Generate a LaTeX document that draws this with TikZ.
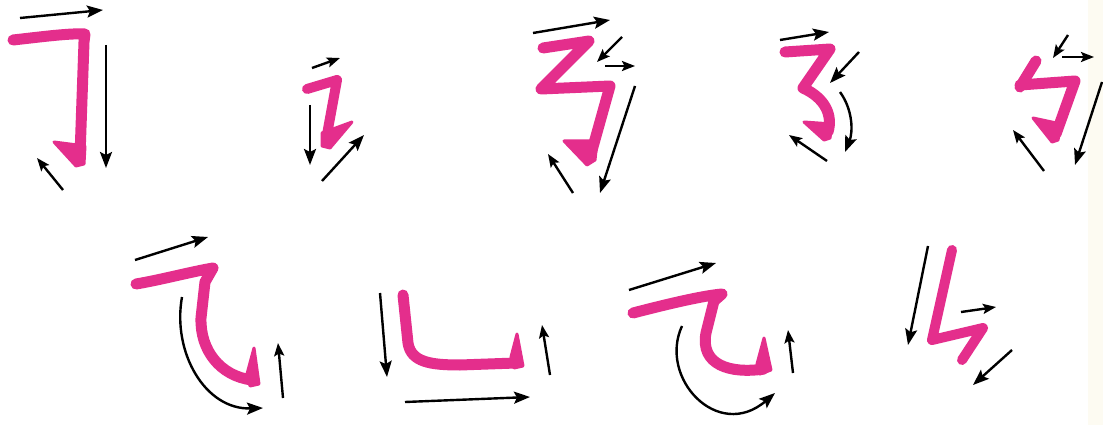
\documentclass[tikz,border=0pt]{standalone}
\usetikzlibrary{arrows.meta}
\definecolor{brushpink}{RGB}{228,46,140}
\definecolor{cream}{RGB}{253,251,242}
\tikzset{
  brush/.style={draw=brushpink,line width=11pt,line cap=round,line join=round},
  hook/.style={fill=brushpink,draw=brushpink,line width=3pt,line join=round},
  arr/.style={draw=black,line width=2.4pt,-{Stealth[length=16pt,width=12pt,inset=3pt]}},
  sarr/.style={arr,-{Stealth[length=13pt,width=10pt,inset=2.5pt]}}
}
\begin{document}
\begin{tikzpicture}[x=1pt,y=-1pt]
\useasboundingbox (0,0) rectangle (1103,425);
\fill[white] (0,0) rectangle (1103,425);
\fill[cream] (1088,0) rectangle (1103,425);

% ---- stroke 1
\draw[brush] (13,40) .. controls (40,37) and (70,33) .. (85,34) -- (84,42) -- (80,156);
\fill[hook] (85,146) -- (54,142) -- (76,166) -- (84,164) -- cycle;
\draw[arr] (20,18) -- (103,10);
\draw[arr] (106,45) -- (106,168);
\draw[sarr] (63,190) -- (37,158);

% ---- stroke 2
\draw[brush,line width=10pt] (307,89) -- (337,80) -- (326,140);
\fill[hook] (322,133) -- (352,122) -- (330,148) -- (322,146) -- cycle;
\draw[sarr] (312,68) -- (340,58);
\draw[arr] (310,105) -- (310,165);
\draw[arr] (322,181) -- (364,135);

% ---- stroke 3
\draw[brush] (543,48) -- (589,41) -- (541,89) -- (610,86) -- (591,154);
\fill[hook] (597,141) -- (564,141) -- (587,165) -- (595,160) -- cycle;
\draw[arr] (533,33) -- (610,20);
\draw[sarr] (622,37) -- (597,62);
\draw[sarr] (605,66) -- (635,66);
\draw[arr] (635,86) -- (600,193);
\draw[sarr] (573,193) -- (548,154);

% ---- stroke 4
\draw[brush] (785,52) -- (830,49) -- (803,88) .. controls (825,98) and (833,115) .. (828,132);
\fill[hook] (832,124) -- (804,122) -- (824,140) -- (830,138) -- cycle;
\draw[arr] (780,40) -- (829,32);
\draw[arr] (859,52) -- (830,83);
\draw[arr] (840,92) .. controls (853,110) and (853,132) .. (845,152);
\draw[sarr] (827,161) -- (789,135);

% ---- stroke 5
\draw[brush] (1036,61) -- (1020,87);
\draw[brush] (1020,85) -- (1075,81) -- (1056,134);
\fill[hook] (1061,124) -- (1033,118) -- (1052,142) -- (1058,140) -- cycle;
\draw[sarr] (1068,35) -- (1053,58);
\draw[sarr] (1062,57) -- (1094,57);
\draw[arr] (1102,82) -- (1075,165);
\draw[sarr] (1044,171) -- (1013,130);

% ---- stroke 6
\draw[brush] (136,284) .. controls (160,280) and (190,272) .. (213,268)
  -- (205,282) -- (201,318) .. controls (200,350) and (220,376) .. (252,380);
\fill[hook] (247,374) -- (254,348) -- (259,384) -- (250,386) -- cycle;
\draw[arr] (135,260) -- (208,237);
\draw[arr] (182,297) .. controls (172,352) and (205,410) .. (263,408);
\draw[sarr] (283,398) -- (278,343);

% ---- stroke 7
\draw[brush] (403,295) -- (408,343) .. controls (411,362) and (430,365) .. (460,365) -- (516,363);
\fill[hook] (511,357) -- (517,334) -- (523,366) -- (514,368) -- cycle;
\draw[arr] (380,293) -- (387,377);
\draw[sarr] (550,375) -- (542,325);
\draw[arr] (405,402) -- (530,397);

% ---- stroke 8
\draw[brush] (633,313) .. controls (660,306) and (700,296) .. (722,294)
  -- (714,301) -- (706,333) .. controls (700,365) and (730,374) .. (764,369);
\fill[hook] (757,364) -- (764,338) -- (771,370) -- (760,374) -- cycle;
\draw[arr] (629,290) -- (716,263);
\draw[arr] (682,326) .. controls (658,378) and (718,442) .. (775,393);
\draw[sarr] (793,373) -- (788,330);

% ---- stroke 9
\draw[brush,line width=10pt] (952,250) -- (932,340) -- (983,328) -- (962,360);
\draw[arr] (928,246) -- (908,345);
\draw[sarr] (961,312) -- (996,307);
\draw[arr] (1012,350) -- (973,385);
\end{tikzpicture}
\end{document}
